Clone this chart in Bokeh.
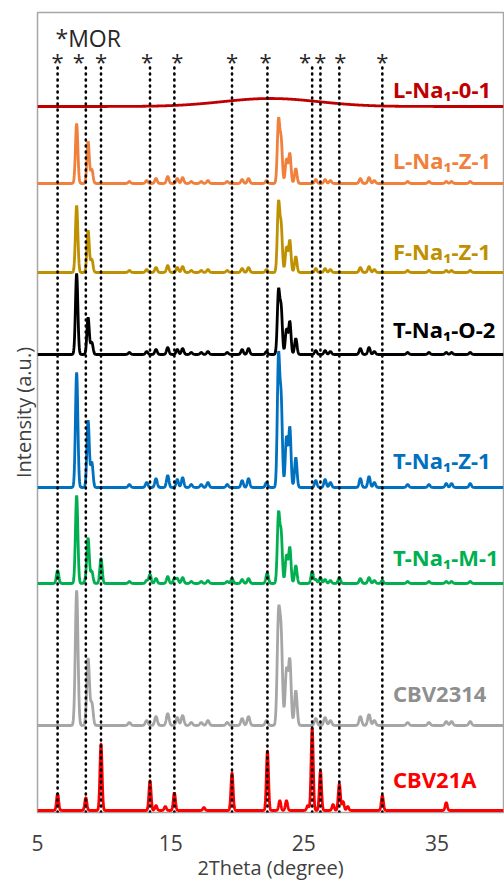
import numpy as np
from bokeh.plotting import figure
from bokeh.models import Range1d, FixedTicker, Title
from bokeh.core.properties import value
from bokeh.embed import file_html
from bokeh.resources import INLINE

# ---------------- data ----------------
sample_names = ["L-Na₁-0-1", "L-Na₁-Z-1", "F-Na₁-Z-1", "T-Na₁-O-2",
                "T-Na₁-Z-1", "T-Na₁-M-1", "CBV2314", "CBV21A"]
# vertical stacking offset of each pattern (intensity, a.u.)
baselines = [706, 629, 540, 458, 325, 229, 87, 2]

# MOR reference reflections (2theta, degree) marked with *
mor_positions = [6.51, 8.63, 9.77, 13.45, 15.28, 19.61, 22.27, 25.63, 26.25, 27.67, 30.90]

# MFI reflections (2theta, degree)
mfi_positions = [7.94, 8.80, 9.08, 11.90, 13.20, 13.90, 14.78, 15.50, 15.90, 16.55,
                 17.30, 17.80, 19.25, 20.37, 20.85, 22.20, 23.10, 23.30, 23.70, 23.95,
                 24.40, 25.90, 26.60, 27.00, 29.25, 29.90, 30.30, 32.80, 34.40, 35.70,
                 36.10, 37.50]

# peak heights of the MFI reflections per sample
mfi_l_na1_z1 = [60, 42, 14, 2, 3, 5, 7, 5, 6, 2, 2, 3, 2, 4, 5, 3,
                62, 42, 24, 30, 15, 4, 4, 3, 5, 6, 3, 2, 2, 2, 2, 2]
mfi_f_na1_z1 = [67, 42, 13, 2, 3, 5, 7, 5, 6, 2, 2, 3, 2, 4, 5, 3,
                68, 45, 25, 32, 16, 4, 4, 3, 5, 6, 3, 2, 2, 2, 2, 2]
mfi_t_na1_o2 = [81, 37, 12, 2, 3, 5, 7, 5, 6, 2, 2, 3, 2, 5, 6, 3,
                62, 45, 25, 33, 16, 4, 4, 3, 6, 7, 3, 2, 2, 2, 2, 2]
mfi_t_na1_z1 = [115, 67, 25, 3, 5, 9, 12, 8, 10, 3, 3, 5, 3, 7, 9, 5,
                128, 85, 50, 60, 30, 7, 8, 5, 9, 11, 5, 3, 3, 4, 4, 4]
mfi_t_na1_m1 = [88, 45, 12, 2, 3, 5, 7, 5, 6, 2, 2, 3, 2, 4, 5, 3,
                68, 48, 28, 36, 18, 4, 4, 3, 5, 6, 3, 2, 2, 2, 2, 2]
mfi_cbv2314 = [135, 67, 22, 3, 5, 9, 12, 8, 10, 3, 3, 5, 3, 7, 9, 5,
               105, 85, 55, 65, 35, 7, 8, 5, 9, 11, 5, 3, 3, 4, 4, 4]

# peak heights of the MOR reflections
mor_t_na1_m1 = [13, 4, 25, 9, 5, 5, 8, 12, 6, 6, 3]
mor_cbv21a = [17, 13, 67, 30, 18, 38, 60, 83, 40, 27, 15]

# weaker MOR reflections of CBV21A
mor_minor_positions = [13.90, 14.60, 17.50, 23.20, 23.70, 25.30, 27.20, 27.95, 28.30, 35.70]
mor_minor_cbv21a = [5, 4, 3, 10, 10, 5, 6, 9, 4, 8]

# broad amorphous hump of L-Na1-0-1
amorphous_center = 22.5
amorphous_height = 8
amorphous_width = 3.6

colors = ["#C00000", "#F0803C", "#BF9000", "#000000",
          "#0070C0", "#00B050", "#A6A6A6", "#FF0000"]
label_colors = ["#C00000", "#F0803C", "#BF9000", "#000000",
                "#0070C0", "#00B050", "#8F8F8F", "#FF0000"]
label_gaps = [18, 24, 22, 26, 28, 27, 33, 32]
peak_sigma = [0.09, 0.09, 0.09, 0.09, 0.09, 0.09, 0.1, 0.08]

x_ticks = [5, 15, 25, 35]

# ---------------- patterns ----------------
two_theta = np.arange(5.0, 40.0001, 0.02)


def pattern(positions, heights, sigma):
    y = np.zeros_like(two_theta)
    for pos, h in zip(positions, heights):
        y += h * np.exp(-0.5 * ((two_theta - pos) / sigma) ** 2)
    return y


profiles = [
    pattern([amorphous_center], [amorphous_height], amorphous_width),
    pattern(mfi_positions, mfi_l_na1_z1, peak_sigma[1]),
    pattern(mfi_positions, mfi_f_na1_z1, peak_sigma[2]),
    pattern(mfi_positions, mfi_t_na1_o2, peak_sigma[3]),
    pattern(mfi_positions, mfi_t_na1_z1, peak_sigma[4]),
    pattern(mfi_positions, mfi_t_na1_m1, peak_sigma[5])
    + pattern(mor_positions, mor_t_na1_m1, peak_sigma[5]),
    pattern(mfi_positions, mfi_cbv2314, peak_sigma[6]),
    pattern(mor_positions, mor_cbv21a, peak_sigma[7])
    + pattern(mor_minor_positions, mor_minor_cbv21a, peak_sigma[7]),
]

# ---------------- figure ----------------
p = figure(frame_width=466, frame_height=800, output_backend="svg",
           toolbar_location=None,
           x_range=Range1d(5, 40), y_range=Range1d(0, 800),
           min_border_left=37, min_border_right=1, min_border_top=12,
           min_border_bottom=72)
p.background_fill_color = "white"
p.border_fill_color = "white"
p.outline_line_color = "#A6A6A6"
p.outline_line_width = 1.5
p.xgrid.visible = False
p.ygrid.visible = False
p.yaxis.visible = False

xa = p.xaxis[0]
xa.ticker = FixedTicker(ticks=x_ticks)
xa.axis_line_color = None
xa.major_tick_line_color = None
xa.minor_tick_line_color = None
xa.major_tick_out = 0
xa.major_tick_in = 0
xa.major_label_standoff = 22
xa.major_label_text_font = "Open Sans"
xa.major_label_text_font_size = "21px"
xa.major_label_text_color = "#404040"
xa.axis_label = "2Theta (degree)"
xa.axis_label_text_font = "Open Sans"
xa.axis_label_text_font_style = "normal"
xa.axis_label_text_font_size = "20px"
xa.axis_label_text_color = "#404040"
xa.axis_label_standoff = 0

# stacked patterns
for prof, base, col in zip(profiles, baselines, colors):
    p.line(two_theta, prof + base, line_color=col, line_width=2.8)

# dotted MOR markers on top
for pos in mor_positions:
    p.line([pos, pos], [0, 749], line_color="black", line_width=2.6,
           line_dash="1 5", line_cap="round")

star_offsets = [0, -7, 0, -3, 3, 0, -2, -7, 0, 1, 0]
p.text(x=mor_positions, y=[752] * len(mor_positions), text=["*"] * len(mor_positions),
       x_offset=star_offsets, text_align="center", text_baseline="middle",
       text_font=value("Open Sans"), text_font_size="22px", text_color="#262626")

p.text(x=[6.35], y=[775], text=["*MOR"], text_align="left", text_baseline="middle",
       text_font=value("Open Sans"), text_font_size="23px", text_color="#262626")

# sample labels
p.text(x=[31.7] * len(sample_names),
       y=[b + g for b, g in zip(baselines, label_gaps)],
       text=sample_names, text_color=label_colors,
       text_align="left", text_baseline="middle",
       text_font=value("Noto Sans"), text_font_style="bold", text_font_size="22px")

# vertical axis title
p.add_layout(Title(text="Intensity (a.u.)", align="center", vertical_align="middle",
                   offset=40, standoff=0, text_font="Open Sans",
                   text_font_style="normal", text_font_size="20px",
                   text_color="#404040"), "left")

open("out.html", "w").write(file_html(p, INLINE))
